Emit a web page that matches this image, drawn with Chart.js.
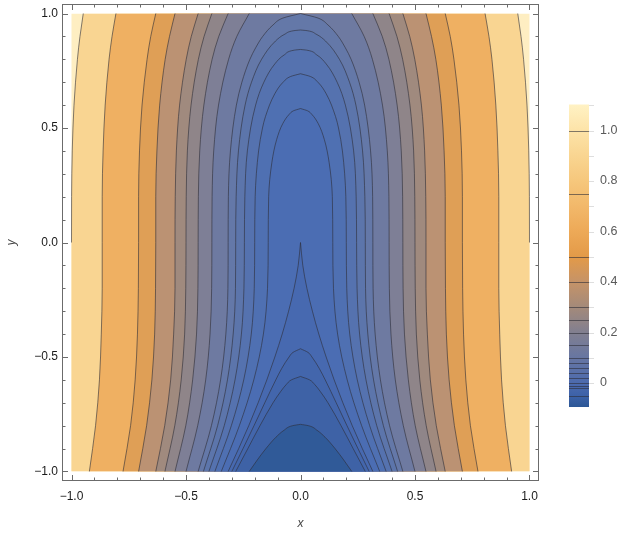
<!DOCTYPE html>
<html>
<head>
<meta charset="utf-8">
<script src="https://cdn.jsdelivr.net/npm/chart.js@4.4.1/dist/chart.umd.min.js"></script>
<style>
  html, body { margin: 0; padding: 0; background: #fff; }
</style>
</head>
<body>
<canvas id="contourChart" width="630" height="534"></canvas>
<script>
// contour levels, highest first
const levels = [1.0, 0.75, 0.5, 0.4, 0.3, 0.25, 0.2, 0.15, 0.1, 0.08, 0.06, 0.04, 0.02, 0, -0.01, -0.02, -0.05];

// right half of each contour line, [x, y] (the plot is mirror symmetric in x)
const c100 = [[1, -1], [1, 0], [0.9996, 0.2], [0.9968, 0.4], [0.9891, 0.6], [0.9741, 0.8], [0.963, 0.9], [0.9487, 1]];
const c075 = [[0.922, -1], [0.895, -0.8], [0.878, -0.6], [0.870, -0.4], [0.866, -0.2], [0.866, 0], [0.866, 0.2], [0.862, 0.4], [0.853, 0.6], [0.836, 0.8], [0.823, 0.9], [0.806, 1]];
const c050 = [[0.775, -1], [0.742, -0.8], [0.722, -0.6], [0.712, -0.4], [0.708, -0.2], [0.707, 0], [0.707, 0.2], [0.703, 0.4], [0.692, 0.6], [0.670, 0.8], [0.654, 0.9], [0.632, 1]];
const c040 = [[0.707, -1], [0.672, -0.8], [0.649, -0.6], [0.637, -0.4], [0.633, -0.2], [0.632, 0], [0.632, 0.2], [0.627, 0.4], [0.615, 0.6], [0.591, 0.8], [0.572, 0.9], [0.548, 1]];
const c030 = [[0.632, -1], [0.593, -0.8], [0.567, -0.6], [0.554, -0.4], [0.548, -0.2], [0.548, 0], [0.547, 0.2], [0.542, 0.4], [0.528, 0.6], [0.499, 0.8], [0.477, 0.9], [0.447, 1]];
const c025 = [[0.592, -1], [0.549, -0.8], [0.521, -0.6], [0.506, -0.4], [0.501, -0.2], [0.5, 0], [0.499, 0.2], [0.494, 0.4], [0.478, 0.6], [0.446, 0.8], [0.421, 0.9], [0.387, 1]];
const c020 = [[0.548, -1], [0.501, -0.8], [0.471, -0.6], [0.454, -0.4], [0.448, -0.2], [0.447, 0], [0.446, 0.2], [0.440, 0.4], [0.422, 0.6], [0.386, 0.8], [0.357, 0.9], [0.316, 1]];
const c015 = [[0.5, -1], [0.449, -0.8], [0.414, -0.6], [0.395, -0.4], [0.388, -0.2], [0.387, 0], [0.386, 0.2], [0.379, 0.4], [0.358, 0.6], [0.314, 0.8], [0.278, 0.9], [0.224, 1]];
const c010 = [[0.447, -1], [0.389, -0.8], [0.349, -0.6], [0.326, -0.4], [0.317, -0.2], [0.316, 0], [0.315, 0.2], [0.306, 0.4], [0.280, 0.6], [0.256, 0.7], [0.221, 0.8], [0.196, 0.85], [0.165, 0.9], [0.120, 0.95], [0.077, 0.98], [0, 1]];
const c008 = [[0.424, -1], [0.362, -0.8], [0.319, -0.6], [0.294, -0.4], [0.284, -0.2], [0.283, 0], [0.281, 0.2], [0.271, 0.4], [0.242, 0.6], [0.214, 0.7], [0.170, 0.8], [0.109, 0.88], [0.068, 0.91], [0.029, 0.925], [0, 0.928]];
const c006 = [[0.4, -1], [0.333, -0.8], [0.286, -0.6], [0.258, -0.4], [0.247, -0.2], [0.245, 0], [0.243, 0.2], [0.232, 0.4], [0.196, 0.6], [0.160, 0.7], [0.112, 0.78], [0.070, 0.82], [0.027, 0.84], [0, 0.843]];
const c004 = [[0.374, -1], [0.302, -0.8], [0.248, -0.6], [0.215, -0.4], [0.202, -0.2], [0.2, 0], [0.198, 0.2], [0.183, 0.4], [0.166, 0.5], [0.153, 0.55], [0.112, 0.65], [0.076, 0.7], [0.043, 0.725], [0, 0.737]];
const c002 = [[0.346, -1], [0.267, -0.8], [0.204, -0.6], [0.162, -0.4], [0.144, -0.2], [0.141, 0], [0.139, 0.2], [0.125, 0.35], [0.104, 0.45], [0.077, 0.52], [0.049, 0.56], [0.031, 0.575], [0, 0.585]];
const c000 = [[0.316, -1], [0.270, -0.9], [0.226, -0.8], [0.185, -0.7], [0.147, -0.6], [0.112, -0.5], [0.08, -0.4], [0.052, -0.3], [0.028, -0.2], [0.01, -0.1], [0, 0]];
const cm001 = [[0.3, -1], [0.251, -0.9], [0.203, -0.8], [0.156, -0.7], [0.108, -0.6], [0.082, -0.55], [0.05, -0.5], [0.033, -0.48], [0, -0.464]];
const cm002 = [[0.283, -1], [0.230, -0.9], [0.177, -0.8], [0.120, -0.7], [0.086, -0.65], [0.062, -0.62], [0.04, -0.6], [0, -0.585]];
const cm005 = [[0.224, -1], [0.189, -0.95], [0.151, -0.9], [0.107, -0.85], [0.072, -0.82], [0.035, -0.8], [0, -0.794]];
const contours = [c100, c075, c050, c040, c030, c025, c020, c015, c010, c008, c006, c004, c002, c000, cm001, cm002, cm005];

// plot edge x = ±1
const plotEdge = [[1, -1], [1, 1]];

// axis ticks
const axisTicks = [-1, -0.5, 0, 0.5, 1];
const minorTicks = [-0.9, -0.8, -0.7, -0.6, -0.4, -0.3, -0.2, -0.1, 0.1, 0.2, 0.3, 0.4, 0.6, 0.7, 0.8, 0.9];
const barTicks = [0, 0.2, 0.4, 0.6, 0.8, 1.0];
const barRange = [-0.095, 1.103];

// band colours: band just below each level, and the band above the top level
const bandColors = ['#F9D592', '#EFB062', '#DF9F56', '#BB9273', '#A08A7E', '#8F8589', '#7E7F96', '#6E7AA1', '#6478A8', '#5C75AB', '#5572AF', '#4F70B2', '#4B6DB3', '#4769B0', '#4366AC', '#3E62A6', '#305A98'];
const topBandColor = '#FEEEC2';
const rampStops = [
  [-0.095, '#2C5796'], [-0.05, '#3D62A8'], [0, '#4C6AAE'], [0.1, '#6776A2'], [0.2, '#817F90'],
  [0.3, '#A48A7A'], [0.4, '#C59368'], [0.5, '#E39A48'], [0.6, '#EDA957'], [0.7, '#F2B86A'],
  [0.8, '#F6C77C'], [0.9, '#F9D591'], [1.0, '#FDE3A8'], [1.103, '#FFF2C4']
];

const lineColor = 'rgba(45, 45, 55, 0.6)';
const frameColor = '#6b6b6b';
const fontFamily = '"Liberation Sans", Arial, sans-serif';
const fmt = v => (v < 0 ? '\u2212' : '') + Math.abs(v).toFixed(1);
const mirror = pts => pts.map(p => ({ x: -p[0], y: p[1] }));
const direct = pts => pts.map(p => ({ x: p[0], y: p[1] }));

// the 1.0 contour only shows where it leaves the edge (y >= 0)
const c100Visible = c100.filter(p => p[1] >= 0);
const datasets = [
  { label: 'z=1 line left', data: mirror(c100Visible), fill: false },
  { label: 'z=1 line right', data: direct(c100Visible), fill: false },
];

// each contour as a left and a right branch; the region between them is filled
// the filler paints the last dataset first, so the smallest regions go first in the list
for (let i = levels.length - 1; i >= 0; i--) {
  const pts = contours[i];
  const hide = levels[i] === 1.0 ? { borderWidth: 0 } : {};
  datasets.push(Object.assign({ label: 'z=' + levels[i] + ' left', data: mirror(pts), fill: false }, hide));
  datasets.push(Object.assign({ label: 'z=' + levels[i] + ' right', data: direct(pts), fill: '-1', backgroundColor: bandColors[i] }, hide));
}
datasets.push({ label: 'edge left', data: mirror(plotEdge), fill: false, borderWidth: 0 });
datasets.push({ label: 'edge right', data: direct(plotEdge), fill: '-1', backgroundColor: topBandColor, borderWidth: 0 });

const framePlugin = {
  id: 'frame',
  beforeDraw(chart) {
    const ctx = chart.ctx;
    ctx.save();
    ctx.fillStyle = '#fff';
    ctx.fillRect(0, 0, chart.width, chart.height);
    ctx.restore();
  },
  afterDatasetsDraw(chart) {
    const { ctx, chartArea: a, scales: { x, y } } = chart;
    ctx.save();
    ctx.strokeStyle = frameColor;
    ctx.lineWidth = 1;
    ctx.strokeRect(a.left + 0.5, a.top + 0.5, a.right - a.left - 1, a.bottom - a.top - 1);
    ctx.beginPath();
    const all = axisTicks.map(v => [v, 6]).concat(minorTicks.map(v => [v, 3.5]));
    all.forEach(([v, len]) => {
      const px = Math.round(x.getPixelForValue(v)) + 0.5;
      ctx.moveTo(px, a.bottom); ctx.lineTo(px, a.bottom - len);
      ctx.moveTo(px, a.top); ctx.lineTo(px, a.top + len);
      const py = Math.round(y.getPixelForValue(v)) + 0.5;
      ctx.moveTo(a.left, py); ctx.lineTo(a.left + len, py);
      ctx.moveTo(a.right, py); ctx.lineTo(a.right - len, py);
    });
    ctx.stroke();
    ctx.restore();
  },
  afterDraw(chart) {
    // colour bar
    const { ctx } = chart;
    const cb = chart.scales.cb;
    const x0 = cb.left + 30, w = 20;
    const yTop = cb.getPixelForValue(barRange[1]);
    const yBot = cb.getPixelForValue(barRange[0]);
    const g = ctx.createLinearGradient(0, yBot, 0, yTop);
    rampStops.forEach(([v, c]) => g.addColorStop((v - barRange[0]) / (barRange[1] - barRange[0]), c));
    ctx.save();
    ctx.fillStyle = g;
    ctx.fillRect(x0, yTop, w, yBot - yTop);
    ctx.strokeStyle = lineColor;
    ctx.lineWidth = 1;
    ctx.beginPath();
    levels.forEach(L => {
      const py = Math.round(cb.getPixelForValue(L)) + 0.5;
      ctx.moveTo(x0, py); ctx.lineTo(x0 + w, py);
    });
    ctx.stroke();
    ctx.strokeStyle = '#dedede';
    ctx.beginPath();
    for (let v = 0; v <= 1.1; v += 0.1) {
      const py = Math.round(cb.getPixelForValue(v)) + 0.5;
      ctx.moveTo(x0 + w, py); ctx.lineTo(x0 + w + 5, py);
    }
    ctx.stroke();
    ctx.restore();
  }
};

const zeroPad = s => { s.paddingTop = 0; s.paddingBottom = 0; s.paddingLeft = 0; s.paddingRight = 0; };

new Chart(document.getElementById('contourChart'), {
  type: 'line',
  data: { datasets },
  options: {
    indexAxis: 'y',
    responsive: false,
    animation: false,
    events: [],
    layout: { padding: { top: 4, right: 0, bottom: 0, left: 0 } },
    elements: {
      point: { radius: 0 },
      line: { borderColor: lineColor, borderWidth: 1, cubicInterpolationMode: 'monotone' },
    },
    plugins: { legend: { display: false }, tooltip: { enabled: false } },
    scales: {
      x: {
        type: 'linear',
        position: 'bottom',
        min: -1.0415,
        max: 1.0415,
        afterBuildTicks: s => { s.ticks = axisTicks.map(v => ({ value: v })); },
        afterFit: s => { s.height = 53; zeroPad(s); },
        grid: { display: false, drawTicks: false, tickLength: 0 },
        border: { display: false },
        ticks: { callback: v => fmt(v), color: '#1a1a1a', padding: 8, maxRotation: 0, font: { family: fontFamily, size: 12 } },
        title: { display: true, text: 'x', color: '#444', padding: { top: 0, bottom: 3 }, font: { family: fontFamily, size: 12, style: 'italic' } },
      },
      y: {
        type: 'linear',
        position: 'left',
        min: -1.0415,
        max: 1.0415,
        afterBuildTicks: s => { s.ticks = axisTicks.map(v => ({ value: v })); },
        afterFit: s => { s.width = 62; zeroPad(s); },
        grid: { display: false, drawTicks: false, tickLength: 0 },
        border: { display: false },
        ticks: { callback: v => fmt(v), color: '#1a1a1a', padding: 4, font: { family: fontFamily, size: 12 } },
        title: { display: true, text: 'y', color: '#444', padding: { top: 4, bottom: 0 }, font: { family: fontFamily, size: 12, style: 'italic' } },
      },
      cb: {
        type: 'linear',
        position: 'right',
        min: -0.388,
        max: 1.501,
        afterBuildTicks: s => { s.ticks = barTicks.map(v => ({ value: v })); },
        afterFit: s => { s.width = 91; zeroPad(s); },
        grid: { display: false, drawTicks: false, tickLength: 0 },
        border: { display: false },
        ticks: { callback: v => (v === 0 ? '0' : v.toFixed(1)), color: '#5a5a5a', padding: 61, font: { family: fontFamily, size: 12.5 } },
      },
    },
  },
  plugins: [framePlugin],
});
</script>
</body>
</html>
